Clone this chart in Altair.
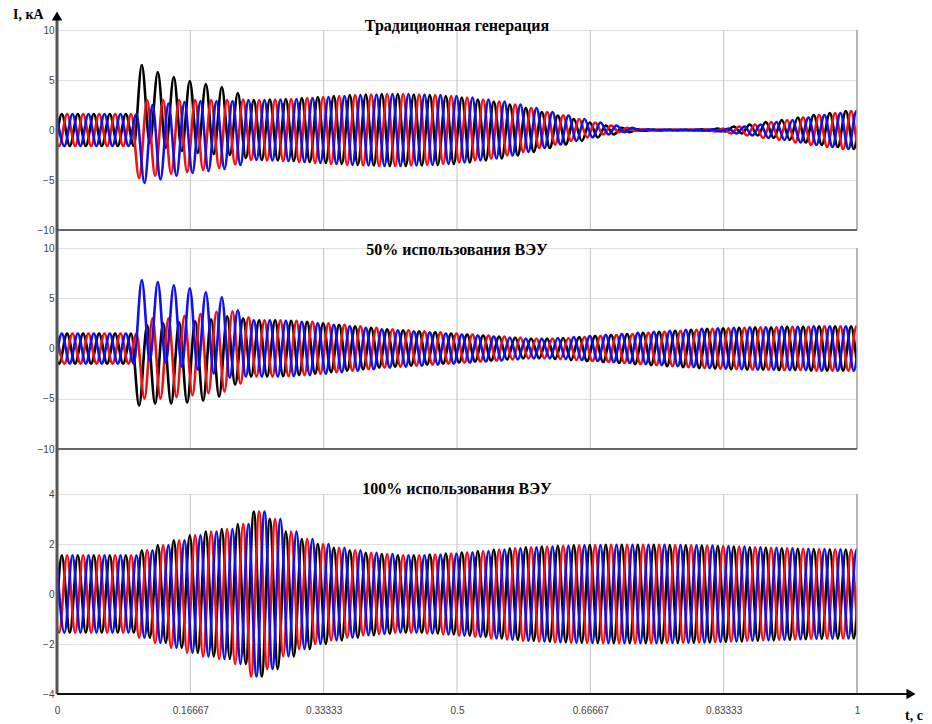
import math
import pandas as pd
import altair as alt

# ---------------- data ----------------
TIME_TICKS = [0, 1 / 6, 1 / 3, 1 / 2, 2 / 3, 5 / 6, 1]
FREQ = 50.0            # Hz, one cycle = 0.02 s
FIRST_PEAK = 0.006     # s, first positive peak of phase A
FAULT_CYCLE = 5        # cycle index where the DC offsets start (t = 0.1 s)
PHASE_LAG = [0.0, 1 / 3, 2 / 3]   # fraction of a period for phases A, B, C

TITLES = ["Традиционная генерация", "50% использования ВЭУ", "100% использования ВЭУ"]

# envelope amplitude (kA) per 20 ms cycle, cycles 0..50
AMP_P1 = [1.6, 1.6, 1.6, 1.6, 1.6,
          3.9, 3.8, 3.7, 3.6, 3.5, 3.4, 3.25,
          3.0, 3.05, 3.1, 3.2, 3.3, 3.4, 3.5, 3.55, 3.6, 3.6, 3.55, 3.5, 3.4,
          3.25, 3.05, 2.85, 2.55, 2.2, 1.8, 1.45, 1.1, 0.75, 0.45, 0.22, 0.08,
          0.05, 0.04, 0.04, 0.06, 0.15, 0.35, 0.55, 0.8, 1.0, 1.25, 1.5, 1.7,
          1.9, 2.1]
AMP_P2 = [1.5, 1.5, 1.5, 1.5, 1.5,
          4.0, 4.0, 4.05, 4.05, 4.05, 4.0, 3.3,
          2.8, 2.8, 2.75, 2.65, 2.5, 2.35, 2.2, 2.05, 1.9, 1.8, 1.7, 1.6, 1.5,
          1.4, 1.3, 1.2, 1.1, 1.0, 0.98, 1.05, 1.15, 1.25, 1.35, 1.45, 1.55,
          1.65, 1.75, 1.85, 1.95, 2.0, 2.05, 2.1, 2.1, 2.15, 2.15, 2.2, 2.2,
          2.2, 2.2]
AMP_P3 = [1.55, 1.55, 1.55, 1.55, 1.55,
          1.75, 1.95, 2.15, 2.35, 2.5, 2.6, 2.8,
          3.3, 3.0, 2.5, 2.2, 2.0, 1.85, 1.75, 1.65, 1.6, 1.55, 1.55, 1.58, 1.62,
          1.67, 1.72, 1.78, 1.83, 1.87, 1.9, 1.93, 1.95, 1.96, 1.97, 1.97, 1.97,
          1.97, 1.96, 1.95, 1.94, 1.92, 1.9, 1.87, 1.85, 1.83, 1.81, 1.8, 1.79,
          1.78, 1.77]

# decaying DC offsets (kA) for cycles 5..11 after the fault
OFF_P1 = {"black": [2.6, 2.0, 1.6, 1.3, 1.1, 0.9, 0.45],
          "red": [-0.9, -0.8, -0.7, -0.6, -0.5, -0.4, -0.2],
          "blue": [-1.4, -1.15, -0.9, -0.7, -0.6, -0.5, -0.25]}
OFF_P2 = {"blue": [2.8, 2.6, 2.25, 1.95, 1.55, 1.1, 0.5],
          "black": [-1.7, -1.5, -1.45, -1.35, -1.15, -0.8, -0.3],
          "red": [-1.0, -1.0, -0.8, -0.6, -0.4, -0.3, -0.2]}
OFF_P3 = {}

# which colour carries phase A, B, C in each panel
PHASE_COLORS_P1 = ["black", "red", "blue"]
PHASE_COLORS_P2 = ["blue", "black", "red"]
PHASE_COLORS_P3 = ["black", "red", "blue"]

Y_TICKS_P12 = [-10, -5, 0, 5, 10]
Y_TICKS_P3 = [-4, -2, 0, 2, 4]

# ---------------- styling / layout ----------------
COLOR_HEX = {"black": "#000000", "red": "#f01010", "blue": "#1010f0"}
DRAW_ORDER = ["black", "red", "blue"]
W, H = 800, 664
LABEL_FONT = "Liberation Sans"
SERIF = "Liberation Serif"


def peak_rows(amp, offsets, lag):
    rows = []
    for n in range(-1, len(amp) + 1):
        for half, sign in ((0.0, 1.0), (0.5, -1.0)):
            t = FIRST_PEAK + (n + lag + half) / FREQ
            c = min(max(int(math.floor(t * FREQ)), 0), len(amp) - 1)
            off = 0.0
            if offsets is not None and FAULT_CYCLE <= c < FAULT_CYCLE + len(offsets):
                off = offsets[c - FAULT_CYCLE]
            rows.append({"t": t, "v": off + sign * amp[c]})
    return pd.DataFrame(rows)


x_axis = alt.Axis(values=TIME_TICKS, format=".5~f", grid=False, domain=False,
                  ticks=False, labelFont=LABEL_FONT, labelFontSize=10,
                  labelColor="#444444", labelPadding=11, labelFlush=False,
                  title=None, orient="bottom")
x_scale = alt.Scale(domain=[0, 1], nice=False, zero=False)


def panel(title, amp, offs, phase_colors, dom, ticks, rng, title_dy):
    y_scale = alt.Scale(domain=dom, range=rng, nice=False, zero=False)
    y_axis = alt.Axis(values=ticks, grid=True, gridColor="#e0e0e0", gridWidth=1,
                      domain=False, ticks=False, labelFont=LABEL_FONT,
                      labelFontSize=10, labelColor="#444444", labelPadding=3,
                      labelFlush=False, title=None, orient="left")
    X = alt.X("t:Q", scale=x_scale, axis=x_axis)
    layers = []
    # vertical grid lines inside the panel
    vg = pd.DataFrame({"t": TIME_TICKS[1:-1], "lo": dom[0], "hi": dom[1]})
    layers.append(alt.Chart(vg).mark_rule(color="#c2c2c2", strokeWidth=1).encode(
        x=X, y=alt.Y("lo:Q", scale=y_scale, axis=y_axis), y2="hi:Q"))
    for col in DRAW_ORDER:
        ph = phase_colors.index(col)
        df = peak_rows(amp, offs.get(col), PHASE_LAG[ph])
        layers.append(alt.Chart(df).mark_line(
            interpolate="monotone", strokeWidth=2.6, clip=True,
            color=COLOR_HEX[col]).encode(
            x=X, y=alt.Y("v:Q", scale=y_scale, axis=y_axis)))
    # right border
    rb = pd.DataFrame({"t": [1.0], "lo": [dom[0]], "hi": [dom[1]]})
    layers.append(alt.Chart(rb).mark_rule(color="#a0a0a0", strokeWidth=1.5).encode(
        x=X, y=alt.Y("lo:Q", scale=y_scale, axis=y_axis), y2="hi:Q"))
    # title
    td = pd.DataFrame({"t": [0.5], "v": [dom[1]], "label": [title]})
    layers.append(alt.Chart(td).mark_text(
        font=SERIF, fontWeight="bold", fontSize=16, color="#000000",
        baseline="middle", align="center", dy=title_dy).encode(
        x=X, y=alt.Y("v:Q", scale=y_scale, axis=y_axis), text="label:N"))
    return layers, y_scale, y_axis, X


l1, s1, a1, X = panel(TITLES[0], AMP_P1, OFF_P1, PHASE_COLORS_P1, [-10, 10], Y_TICKS_P12, [200, 0], -4)
l2, s2, a2, _ = panel(TITLES[1], AMP_P2, OFF_P2, PHASE_COLORS_P2, [-10, 10], Y_TICKS_P12, [419, 218], 2)
l3, s3, a3, _ = panel(TITLES[2], AMP_P3, OFF_P3, PHASE_COLORS_P3, [-4, 4], Y_TICKS_P3, [664, 464], -5)

# dark bottom borders of the two upper panels
bb = pd.DataFrame({"x0": [0.0], "x1": [1.0], "lo": [-10]})
l1.append(alt.Chart(bb).mark_rule(color="#666666", strokeWidth=2).encode(
    x=alt.X("x0:Q", scale=x_scale, axis=x_axis), x2="x1:Q",
    y=alt.Y("lo:Q", scale=s1, axis=a1)))
l2.append(alt.Chart(bb).mark_rule(color="#666666", strokeWidth=2).encode(
    x=alt.X("x0:Q", scale=x_scale, axis=x_axis), x2="x1:Q",
    y=alt.Y("lo:Q", scale=s2, axis=a2)))

p1 = alt.layer(*l1)
p2 = alt.layer(*l2)
p3 = alt.layer(*l3)

# axis lines with arrows and axis names
one = pd.DataFrame({"a": [1]})
deco = [
    alt.Chart(one).mark_rule(color="#555555", strokeWidth=3).encode(
        x=alt.value(0), y=alt.value(-12), y2=alt.value(H)),
    alt.Chart(one).mark_rule(color="#111111", strokeWidth=2).encode(
        x=alt.value(0), x2=alt.value(852), y=alt.value(H)),
    alt.Chart(one).mark_point(shape="triangle-up", filled=True, color="#000000",
                              size=110, opacity=1).encode(
        x=alt.value(0), y=alt.value(-14)),
    alt.Chart(one).mark_point(shape="triangle-right", filled=True, color="#000000",
                              size=110, opacity=1).encode(
        x=alt.value(854), y=alt.value(H)),
    alt.Chart(one).mark_text(font=SERIF, fontWeight="bold", fontSize=14,
                             align="left", baseline="middle", color="#000000").encode(
        x=alt.value(-44), y=alt.value(-15), text=alt.value("I, кА")),
    alt.Chart(one).mark_text(font=SERIF, fontWeight="bold", fontSize=14,
                             align="left", baseline="middle", color="#000000").encode(
        x=alt.value(848), y=alt.value(686), text=alt.value("t, c")),
]

chart = alt.layer(p1, p2, p3, *deco).resolve_scale(y="independent").properties(
    width=W, height=H,
    autosize=alt.AutoSizeParams(type="none"),
    padding={"left": 57, "top": 30, "right": 75, "bottom": 30},
    background="#ffffff",
).configure_view(stroke=None)

chart.save("out.html", embed_options={"renderer": "svg", "actions": False})
